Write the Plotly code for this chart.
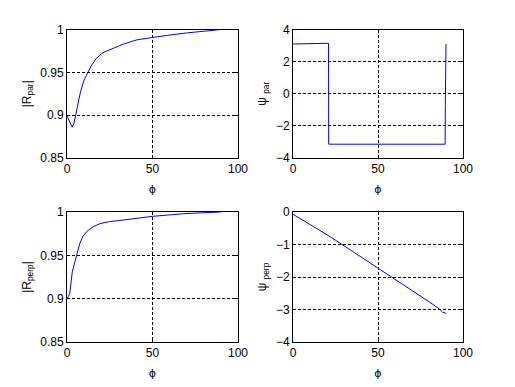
import plotly.graph_objects as go

# ---- data ----
phi_rpar = [0, 1, 2, 3, 4, 5, 6, 7, 8, 10, 12, 14, 17, 21, 27, 33, 41, 50, 58, 70, 82, 90]
r_par = [0.899, 0.894, 0.889, 0.886, 0.890, 0.898, 0.909, 0.919, 0.928, 0.941, 0.949, 0.957, 0.966,
         0.973, 0.978, 0.983, 0.988, 0.991, 0.993, 0.996, 0.998, 1.0]

phi_psipar = [0, 3.3, 3.5, 20.9, 21.0, 89.5, 89.6, 90.0]
psi_par = [3.10, 3.10, 3.14, 3.14, -3.14, -3.14, -0.66, 3.10]

phi_rperp = [0, 1.6, 3.1, 4.5, 5.9, 7.5, 9.4, 11.8, 15.3, 19.2, 25, 30, 35, 42, 50, 60, 68, 78, 90]
r_perp = [0.8995, 0.906, 0.931, 0.943, 0.952, 0.964, 0.972, 0.978, 0.983, 0.9865, 0.989, 0.990,
          0.991, 0.993, 0.995, 0.997, 0.998, 0.999, 1.0]

phi_psiperp = [0, 10, 20, 28, 40, 50, 60, 70, 80, 86, 88, 90]
psi_perp = [-0.07, -0.38, -0.70, -0.97, -1.38, -1.72, -2.07, -2.42, -2.76, -2.98, -3.08, -3.12]

x_ticks = [0, 50, 100]
FONT = "Liberation Sans, Arial, sans-serif"

fig = go.Figure()
line = dict(color="#0000ff", width=1)
fig.add_trace(go.Scatter(x=phi_rpar, y=r_par, mode="lines", line=line, xaxis="x", yaxis="y"))
fig.add_trace(go.Scatter(x=phi_psipar, y=psi_par, mode="lines", line=line, xaxis="x2", yaxis="y2"))
fig.add_trace(go.Scatter(x=phi_rperp, y=r_perp, mode="lines", line=line, xaxis="x3", yaxis="y3"))
fig.add_trace(go.Scatter(x=phi_psiperp, y=psi_perp, mode="lines", line=line, xaxis="x4", yaxis="y4"))

xdomL = [67 / 515, 238 / 515]
xdomR = [293 / 515, 463 / 515]
ydomT = [1 - 158 / 387, 1 - 29.5 / 387]
ydomB = [1 - 342 / 387, 1 - 212 / 387]

def xax(dom, anchor):
    return dict(domain=dom, anchor=anchor, range=[0, 100], tickvals=x_ticks,
                automargin=False,
                showline=True, linecolor="black", linewidth=1, mirror="ticks",
                ticks="inside", ticklen=3, tickcolor="black",
                showgrid=True, gridcolor="black", griddash="3px,2px", gridwidth=1,
                zeroline=False, tickfont=dict(family=FONT, size=12, color="black"),
                title=dict(text="ϕ", font=dict(family="DejaVu Sans", size=11, color="black"), standoff=9))

def yax(dom, anchor, rng, dtick, title):
    return dict(domain=dom, anchor=anchor, range=rng, dtick=dtick, tick0=rng[0],
                automargin=False,
                showline=True, linecolor="black", linewidth=1, mirror="ticks",
                ticks="inside", ticklen=3, tickcolor="black",
                showgrid=True, gridcolor="black", griddash="3px,2px", gridwidth=1,
                zeroline=False, tickfont=dict(family=FONT, size=12, color="black"),
                title=dict(text=title, font=dict(family=FONT, size=12, color="black"), standoff=6))

fig.update_layout(
    width=515, height=387,
    margin=dict(l=0, r=0, t=0, b=0, autoexpand=False),
    paper_bgcolor="white", plot_bgcolor="white",
    showlegend=False,
    xaxis=xax(xdomL, "y"),
    yaxis=yax(ydomT, "x", [0.85, 1.0], 0.05, "|R<sub>par</sub>|"),
    xaxis2=xax(xdomR, "y2"),
    yaxis2=yax(ydomT, "x2", [-4, 4], 2, "ψ <sub>par</sub>"),
    xaxis3=xax(xdomL, "y3"),
    yaxis3=yax(ydomB, "x3", [0.85, 1.0], 0.05, "|R<sub>perp</sub>|"),
    xaxis4=xax(xdomR, "y4"),
    yaxis4=yax(ydomB, "x4", [-4, 0], 1, "ψ <sub>perp</sub>"),
)

fig.write_html("out.html", config={"displayModeBar": False},
               post_script="document.body.style.margin='0';")
